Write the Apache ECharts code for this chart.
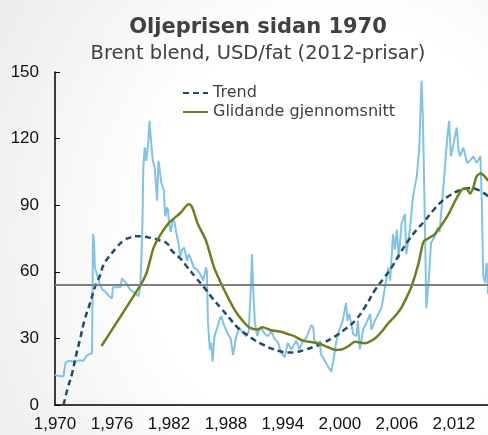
<!DOCTYPE html>
<html>
<head>
<meta charset="utf-8">
<script src="https://cdn.jsdelivr.net/npm/echarts@6/dist/echarts.min.js"></script>
<style>
	html, body { margin: 0; padding: 0; }
	#chart {
		width: 488px; height: 435px;
		background: radial-gradient(ellipse 90% 110% at 70% 55%, #ffffff 45%, #e9e9e9 100%);
	}
</style>
</head>
<body>
<div id="chart"></div>
<script>
// Brent, månadspris (år, USD/fat)
var priceYears = [1970.0, 1970.5, 1970.9, 1971.1, 1971.5, 1972.0, 1972.5, 1973.0, 1973.4, 1973.9,
	1974.0, 1974.1, 1974.2, 1974.4, 1974.75, 1975.0, 1975.3, 1975.7, 1976.0, 1976.1,
	1976.5, 1976.9, 1977.05, 1977.5, 1977.9, 1978.5, 1978.8, 1979.0, 1979.2, 1979.3,
	1979.45, 1979.6, 1979.8, 1979.95, 1980.05, 1980.3, 1980.5, 1980.75, 1980.9, 1981.0,
	1981.2, 1981.45, 1981.6, 1981.8, 1981.9, 1982.0, 1982.2, 1982.4, 1982.6, 1982.8,
	1983.0, 1983.2, 1983.4, 1983.6, 1983.9, 1984.1, 1984.3, 1984.6, 1984.95, 1985.3,
	1985.6, 1985.9, 1986.0, 1986.1, 1986.3, 1986.45, 1986.6, 1986.8, 1987.1, 1987.3,
	1987.5, 1987.8, 1988.2, 1988.5, 1988.75, 1989.05, 1989.4, 1989.75, 1990.1, 1990.4,
	1990.6, 1990.75, 1990.9, 1991.05, 1991.3, 1991.6, 1991.8, 1992.1, 1992.4, 1992.8,
	1993.1, 1993.5, 1993.8, 1994.2, 1994.5, 1994.9, 1995.05, 1995.4, 1995.75, 1996.1,
	1996.45, 1996.8, 1997.0, 1997.2, 1997.3, 1997.7, 1997.9, 1998.0, 1998.4, 1998.8,
	1999.1, 1999.3, 1999.6, 1999.95, 2000.3, 2000.65, 2000.8, 2001.0, 2001.4, 2001.75,
	2001.9, 2002.1, 2002.45, 2002.8, 2003.2, 2003.3, 2003.7, 2004.05, 2004.4, 2004.75,
	2005.1, 2005.3, 2005.6, 2005.8, 2006.0, 2006.2, 2006.5, 2006.85, 2007.0, 2007.4,
	2007.7, 2008.1, 2008.35, 2008.6, 2008.75, 2008.95, 2009.1, 2009.3, 2009.6, 2010.0,
	2010.3, 2010.5, 2010.7, 2011.05, 2011.3, 2011.5, 2011.7, 2011.9, 2012.3, 2012.5,
	2012.65, 2013.0, 2013.4, 2013.7, 2014.05, 2014.4, 2014.8, 2014.95, 2015.1, 2015.3,
	2015.45, 2015.55, 2015.6];
var priceValues = [13.5, 13, 13, 19, 20, 19.5, 20, 20, 22.5, 23.3,
	77, 74, 62, 59, 54, 52, 51, 49, 48, 53,
	53, 53, 57, 55, 52, 50, 49, 54, 80, 107,
	116, 110, 117, 128, 122, 110, 107, 92, 110, 107,
	100, 97, 85, 89, 88, 82, 78, 84, 82, 77,
	73, 67, 70, 71, 65, 68, 66, 62, 61, 59,
	56, 62, 60, 38, 25, 28, 19.5, 31, 35, 38,
	40, 36, 32, 30, 22.5, 30, 35, 32.5, 31, 33,
	50, 68, 50, 37, 31, 35, 34, 32, 31, 33,
	30, 28, 23.5, 21.5, 28, 25, 25, 29, 25, 29,
	30, 34, 36, 35, 29.5, 26, 29, 23, 20, 17,
	15, 19.5, 28, 34, 38, 46, 38, 41, 32, 31,
	38, 25, 34, 37, 41, 34, 38, 41, 44, 53,
	62, 56, 77, 70, 79, 66, 82, 86, 68, 80,
	94, 103, 115, 146, 128, 83, 43.5, 53, 73, 76,
	80, 78, 88, 106, 120, 128, 112, 116, 125, 115,
	112, 116, 109, 110, 112, 109, 112, 91, 58, 55,
	64, 60, 50];

// Trend
var trendYears = [1970.9, 1971.3, 1971.8, 1972.2, 1972.6, 1973.1, 1973.7, 1974.2, 1974.8, 1975.1,
	1976.0, 1976.5, 1977.2, 1977.9, 1978.6, 1979.2, 1979.8, 1980.4, 1981.1, 1981.8,
	1982.2, 1983.2, 1983.9, 1984.8, 1985.7, 1986.6, 1987.5, 1988.4, 1989.2, 1990.1,
	1991.0, 1991.9, 1992.75, 1993.6, 1994.5, 1995.3, 1996.2, 1997.3, 1998.4, 1999.45,
	2000.5, 2001.6, 2002.7, 2003.7, 2004.6, 2005.45, 2006.3, 2007.2, 2008.1, 2008.95,
	2009.8, 2010.7, 2011.6, 2012.5, 2013.55, 2014.6, 2015.6];
var trendValues = [0, 7, 14.3, 22, 29, 38, 46, 53, 59, 63,
	68.5, 71, 74, 75.4, 76, 76, 75.5, 75, 74, 72.8,
	70, 66, 62.3, 57.5, 53, 48, 43.5, 39, 35, 32,
	29.3, 27.2, 25.5, 24.3, 23.6, 23.8, 24.7, 26.3, 28.3, 30.8,
	34, 38, 44.5, 51.8, 57, 62, 68, 74, 79, 83,
	87.5, 91.6, 94.5, 96.5, 97.6, 96.8, 94];

// Glidande gjennomsnitt
var avgYears = [1974.9, 1979.0, 1979.6, 1980.0, 1980.4, 1981.1, 1982.0, 1983.2, 1984.1, 1984.45,
	1985.0, 1985.9, 1986.75, 1987.8, 1988.9, 1989.75, 1990.45, 1991.35, 1991.85, 1992.75,
	1993.8, 1994.5, 1995.2, 1996.1, 1997.7, 1998.75, 1999.6, 2000.2, 2000.9, 2001.6,
	2002.6, 2003.7, 2004.4, 2005.1, 2005.8, 2006.5, 2007.2, 2007.6, 2008.3, 2008.8,
	2009.3, 2010.0, 2010.7, 2011.45, 2012.15, 2012.85, 2013.3, 2013.7, 2014.05, 2014.4,
	2014.85, 2015.25, 2015.6];
var avgValues = [26.6, 54, 59, 65, 71, 76.6, 82, 86.5, 90.4, 89,
	82, 74, 62, 52, 43, 38, 35, 34, 35, 33.7,
	33, 32, 31, 29, 27.8, 26, 24.8, 25, 26.5, 28.5,
	27.8, 30, 33, 36.8, 40, 44, 50, 54, 64, 73.5,
	75, 77, 81, 86, 92, 97, 97.6, 95.3, 98, 103,
	104.3, 103, 101];

var refLevel = 54;
var yTicks = [0, 30, 60, 90, 120, 150];

function zip(xs, ys) {
	return xs.map(function (x, i) { return [x, ys[i]]; });
}

var chart = echarts.init(document.getElementById('chart'), null, { renderer: 'canvas' });
var textFont = 'DejaVu Sans';

chart.setOption({
	backgroundColor: 'transparent',
	animation: false,
	title: [{
		text: 'Oljeprisen sidan 1970',
		left: 253,
		top: 12,
		textAlign: 'center',
		textStyle: { fontFamily: textFont, fontSize: 21, fontWeight: 'bold', color: '#404040' }
	}, {
		text: 'Brent blend, USD/fat (2012-prisar)',
		left: 253,
		top: 39,
		textAlign: 'center',
		textStyle: { fontFamily: textFont, fontSize: 19.5, fontWeight: 'normal', color: '#404040' }
	}],
	legend: {
		orient: 'vertical',
		left: 182,
		top: 85,
		padding: 0,
		itemWidth: 25,
		itemHeight: 10,
		itemGap: 3,
		itemStyle: { opacity: 0 },
		data: ['Trend', 'Glidande gjennomsnitt'],
		textStyle: { fontFamily: textFont, fontSize: 16, color: '#404040' }
	},
	grid: { left: 55, right: 0, top: 72, bottom: 30, containLabel: false },
	xAxis: {
		type: 'value',
		min: 1970,
		max: 2015.6,
		interval: 6,
		axisLine: { show: true, lineStyle: { color: '#000', width: 1.5 } },
		axisTick: { show: false },
		splitLine: { show: false },
		axisLabel: {
			showMaxLabel: false,
			margin: 11,
			fontFamily: 'Liberation Sans',
			fontSize: 17,
			color: '#111'
		}
	},
	yAxis: {
		type: 'value',
		min: yTicks[0],
		max: yTicks[yTicks.length - 1],
		interval: 30,
		axisLine: { show: true, lineStyle: { color: '#000', width: 1.5 } },
		axisTick: { show: true, inside: true, length: 5, lineStyle: { color: '#000' } },
		splitLine: { show: false },
		axisLabel: {
			margin: 16,
			fontFamily: 'Liberation Sans',
			fontSize: 17,
			color: '#111'
		}
	},
	series: [
		{
			name: 'Brent',
			type: 'line',
			data: zip(priceYears, priceValues),
			symbol: 'none',
			lineStyle: { color: '#82c2e4', width: 2 },
			z: 1,
			markLine: {
				silent: true,
				symbol: 'none',
				label: { show: false },
				lineStyle: { color: '#808080', width: 2, type: 'solid' },
				data: [{ yAxis: refLevel }],
				z: 5
			}
		},
		{
			name: 'Trend',
			type: 'line',
			data: zip(trendYears, trendValues),
			smooth: true,
			symbol: 'none',
			itemStyle: { color: '#1f4d68' },
			lineStyle: { color: '#1f4d68', width: 2.5, type: [6, 4] },
			z: 3
		},
		{
			name: 'Glidande gjennomsnitt',
			type: 'line',
			data: zip(avgYears, avgValues),
			smooth: 0.3,
			symbol: 'none',
			itemStyle: { color: '#6e7f1f' },
			lineStyle: { color: '#6e7f1f', width: 2.5 },
			z: 4
		}
	]
});
</script>
</body>
</html>
